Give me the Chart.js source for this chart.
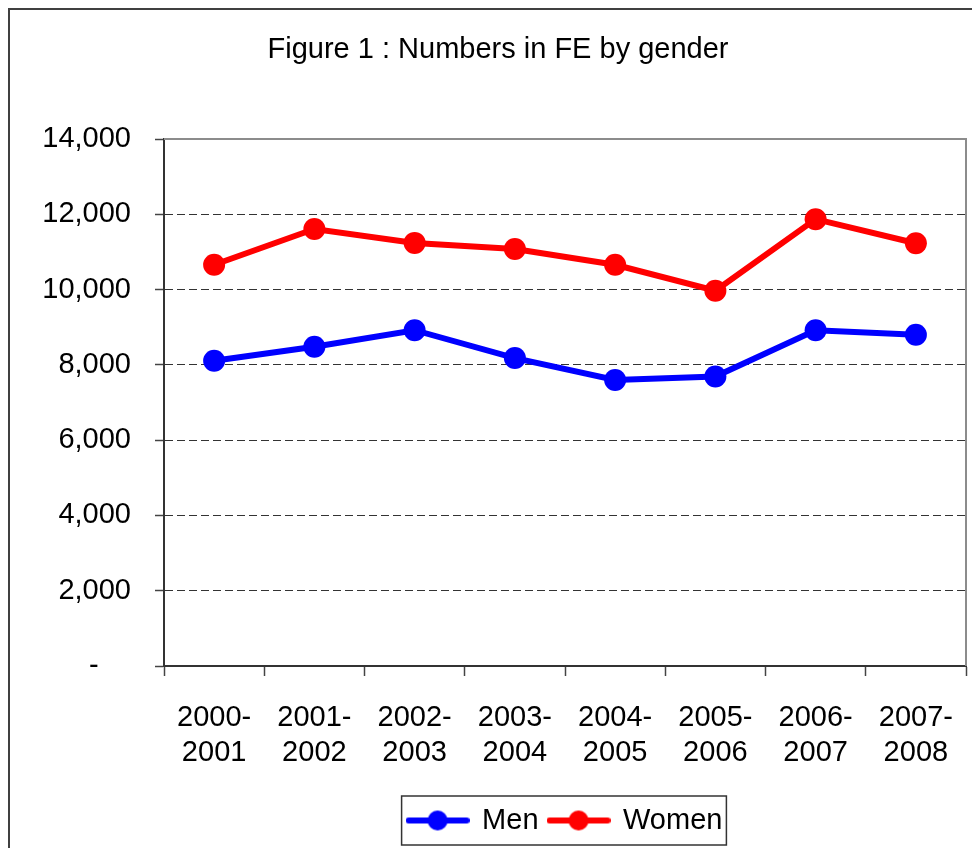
<!DOCTYPE html>
<html>
<head>
<meta charset="utf-8">
<script src="https://cdn.jsdelivr.net/npm/chart.js@4"></script>
<style>
html, body { margin: 0; padding: 0; background: #fff; }
</style>
</head>
<body>
<canvas id="chart" width="972" height="848"></canvas>
<script>
// data
const years = [['2000-', '2001'], ['2001-', '2002'], ['2002-', '2003'], ['2003-', '2004'],
               ['2004-', '2005'], ['2005-', '2006'], ['2006-', '2007'], ['2007-', '2008']];
const men = [8110, 8480, 8920, 8180, 7600, 7690, 8920, 8800];
const women = [10660, 11610, 11240, 11080, 10660, 9970, 11870, 11230];
const yMin = 0;
const yMax = 14000;
const yStep = 2000;

Chart.defaults.font.family = '"Liberation Sans", Arial, sans-serif';
Chart.defaults.color = '#000';

function legendMarker(color) {
    const c = document.createElement('canvas');
    c.width = 64;
    c.height = 24;
    const ctx = c.getContext('2d');
    ctx.strokeStyle = color;
    ctx.lineWidth = 6;
    ctx.lineCap = 'round';
    ctx.beginPath();
    ctx.moveTo(3, 12);
    ctx.lineTo(61, 12);
    ctx.stroke();
    ctx.fillStyle = color;
    ctx.beginPath();
    ctx.arc(32, 12, 10, 0, Math.PI * 2);
    ctx.fill();
    return c;
}

const markers = [legendMarker('#0000ff'), legendMarker('#ff0000')];

// white page, outer frame, plot frame and the legend box
const frames = {
    id: 'frames',
    beforeDraw(chart) {
        const ctx = chart.ctx;
        ctx.save();
        ctx.fillStyle = '#fff';
        ctx.fillRect(0, 0, chart.width, chart.height);
        ctx.strokeStyle = '#404040';
        ctx.lineWidth = 2;
        ctx.strokeRect(9, 9, 2000, 2000);
        ctx.restore();
    },
    afterDraw(chart) {
        const ctx = chart.ctx;
        const a = chart.chartArea;
        ctx.save();
        ctx.strokeStyle = '#8c8c8c';
        ctx.lineWidth = 2;
        ctx.beginPath();
        ctx.moveTo(a.left, a.top);
        ctx.lineTo(a.right, a.top);
        ctx.lineTo(a.right, a.bottom);
        ctx.stroke();

        const boxes = chart.legend.legendHitBoxes;
        if (boxes && boxes.length) {
            let l = Infinity, r = -Infinity, t = Infinity, b = -Infinity;
            boxes.forEach(h => {
                l = Math.min(l, h.left);
                r = Math.max(r, h.left + h.width);
                t = Math.min(t, h.top);
                b = Math.max(b, h.top + h.height);
            });
            ctx.strokeStyle = '#333';
            ctx.lineWidth = 1.5;
            ctx.strokeRect(l - 6, t - 10, r - l + 10, b - t + 20);
        }
        ctx.restore();
    }
};

new Chart('chart', {
    type: 'line',
    data: {
        labels: years,
        datasets: [
            {
                label: 'Men',
                data: men,
                borderColor: '#0000ff',
                backgroundColor: '#0000ff',
                borderWidth: 6,
                pointRadius: 11,
                pointBorderWidth: 0,
                pointBackgroundColor: '#0000ff',
                tension: 0
            },
            {
                label: 'Women',
                data: women,
                borderColor: '#ff0000',
                backgroundColor: '#ff0000',
                borderWidth: 6,
                pointRadius: 11,
                pointBorderWidth: 0,
                pointBackgroundColor: '#ff0000',
                tension: 0
            }
        ]
    },
    options: {
        responsive: false,
        animation: false,
        layout: {
            autoPadding: false,
            padding: { left: 30, right: 6, top: 0, bottom: 3 }
        },
        plugins: {
            title: {
                display: true,
                text: 'Figure 1 : Numbers in FE by gender',
                color: '#000',
                font: { size: 29, weight: 'normal', lineHeight: 1.2 },
                padding: { top: 32.6, bottom: 71.6 }
            },
            legend: {
                display: true,
                position: 'bottom',
                fullSize: false,
                labels: {
                    color: '#000',
                    font: { size: 29 },
                    usePointStyle: true,
                    pointStyleWidth: 60,
                    padding: 10,
                    generateLabels(chart) {
                        const items = Chart.defaults.plugins.legend.labels.generateLabels(chart);
                        items.forEach(it => { it.pointStyle = markers[it.datasetIndex]; });
                        return items;
                    }
                }
            },
            tooltip: { enabled: false }
        },
        scales: {
            x: {
                offset: true,
                afterFit(scale) {
                    scale.height = 130;
                    scale.paddingLeft = 0;
                    scale.paddingRight = 0;
                },
                grid: {
                    display: true,
                    drawOnChartArea: false,
                    offset: true,
                    tickLength: 10,
                    tickColor: '#444',
                    tickWidth: 1.5
                },
                border: { display: true, color: '#333', width: 2 },
                ticks: {
                    color: '#000',
                    font: { size: 29, lineHeight: 1.2 },
                    padding: 25,
                    maxRotation: 0,
                    autoSkip: false
                }
            },
            y: {
                min: yMin,
                max: yMax,
                afterFit(scale) { scale.width = 134; },
                grid: {
                    color: ctx => (ctx.tick && (ctx.tick.value === yMin || ctx.tick.value === yMax)) ? 'rgba(0,0,0,0)' : '#333',
                    lineWidth: 1,
                    tickLength: 9,
                    tickColor: '#444',
                    tickWidth: 1.5,
                    tickBorderDash: []
                },
                border: { display: true, color: '#333', width: 2, dash: [8, 4] },
                ticks: {
                    stepSize: yStep,
                    color: '#000',
                    font: { size: 29 },
                    padding: 24,
                    callback: v => v === 0 ? '-    ' : v.toLocaleString('en-US')
                }
            }
        }
    },
    plugins: [frames]
});
</script>
</body>
</html>
